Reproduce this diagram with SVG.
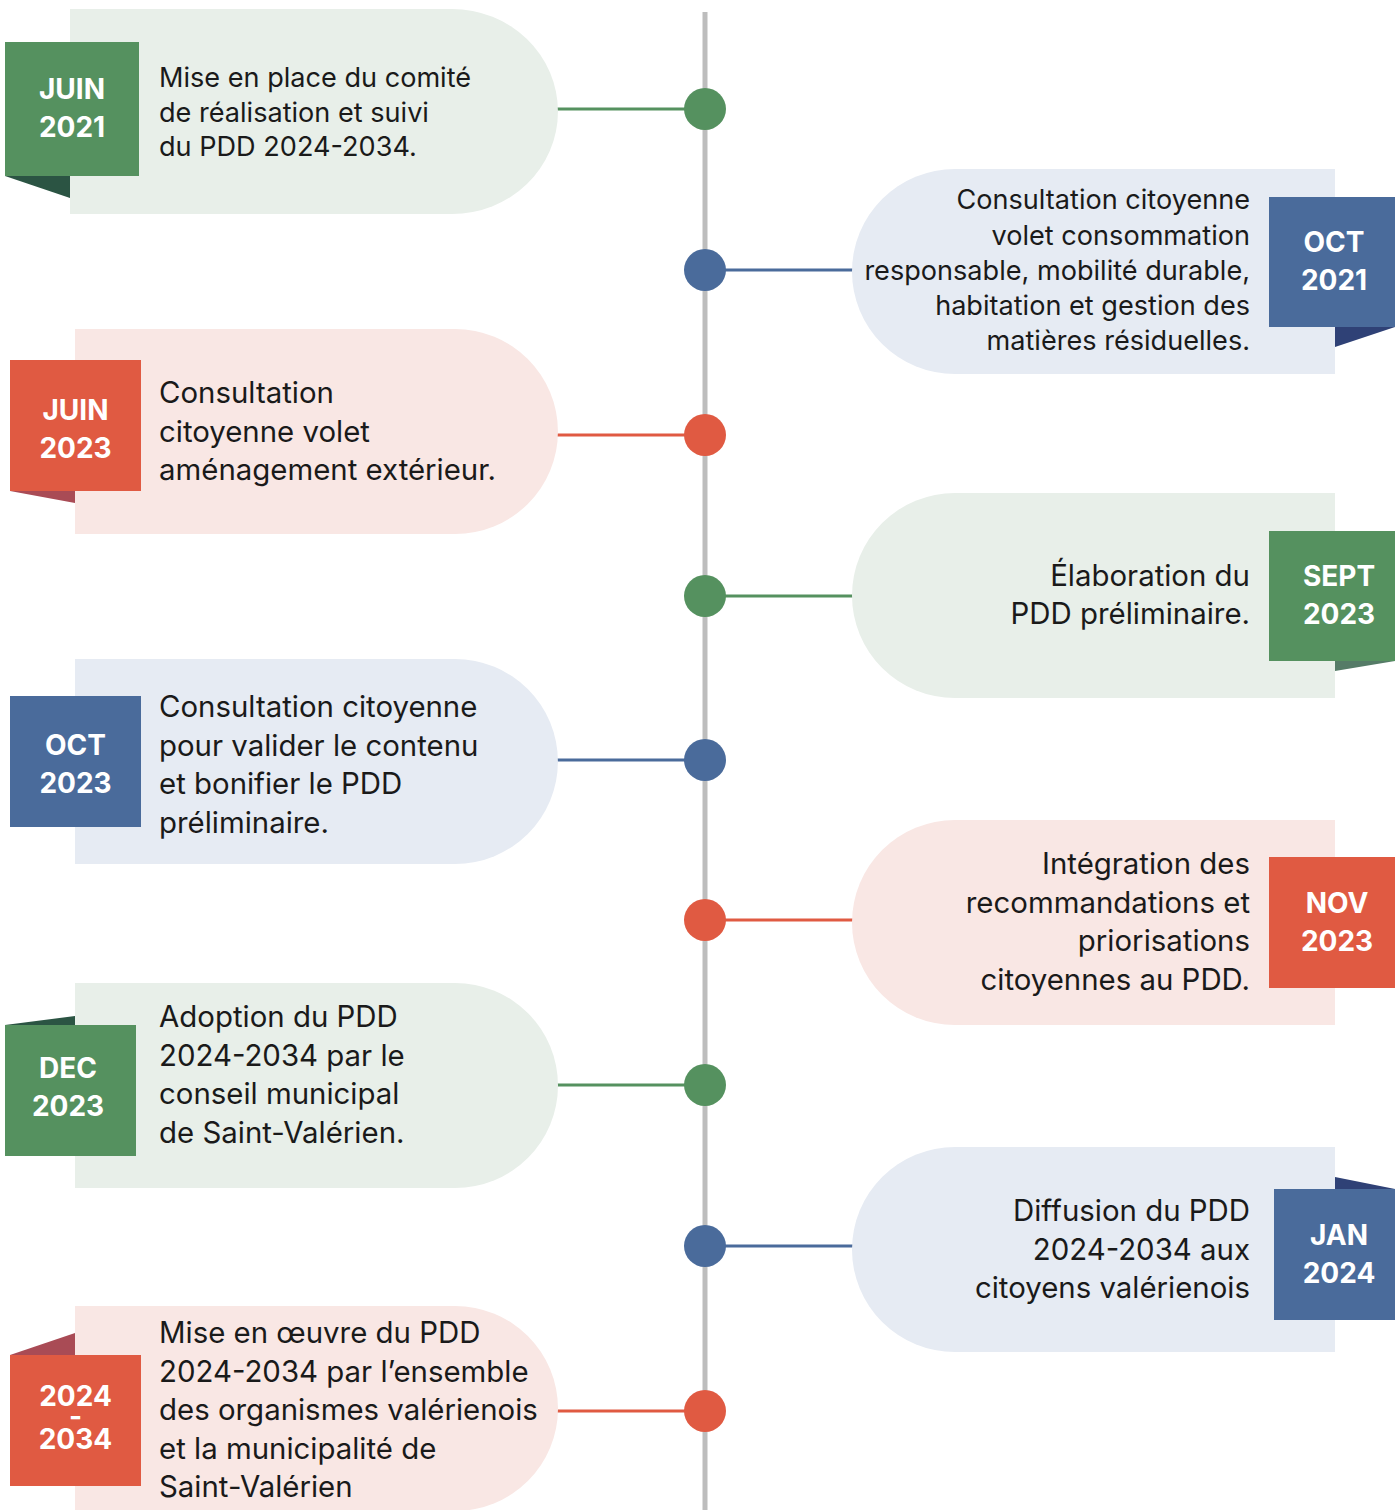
<svg xmlns="http://www.w3.org/2000/svg" width="1395" height="1510" viewBox="0 0 1395 1510">
<style>
.bg{fill:#fff}
.cg{fill:#E8EFE9}.cb{fill:#E6EBF3}.cr{fill:#F9E7E4}
.tg{fill:#55915F}.tb{fill:#4A6B9B}.tr{fill:#E05A42}
.fg{fill:#2B5443}.fg2{fill:#557B67}.fb{fill:#2F4176}.fr{fill:#A94B55}
.lg{stroke:#55915F}.lb{stroke:#4A6B9B}.lr{stroke:#E05A42}
.conn line{stroke-width:3}
.body{font-family:Inter,"Open Sans","Liberation Sans",sans-serif;fill:#1a1a1a}
.s27{font-size:27.1px}.s29{font-size:29.4px}
.r{text-anchor:end}
.tab{font-family:Inter,"Liberation Sans",sans-serif;font-weight:700;font-size:28px;fill:#fff;text-anchor:middle}
</style>
<rect class="bg" width="1395" height="1510"/>
<line x1="705" y1="12" x2="705" y2="1510" stroke="#BDBDBD" stroke-width="5"/>
<g class="conn" id="connectors">
<line class="lg" x1="556" y1="109" x2="690" y2="109"/>
<line class="lb" x1="720" y1="270" x2="854" y2="270"/>
<line class="lr" x1="556" y1="435" x2="690" y2="435"/>
<line class="lg" x1="720" y1="596" x2="854" y2="596"/>
<line class="lb" x1="556" y1="760" x2="690" y2="760"/>
<line class="lr" x1="720" y1="920" x2="854" y2="920"/>
<line class="lg" x1="556" y1="1085" x2="690" y2="1085"/>
<line class="lb" x1="720" y1="1246" x2="854" y2="1246"/>
<line class="lr" x1="556" y1="1411" x2="690" y2="1411"/>
</g>
<g id="dots">
<circle class="tg" cx="705" cy="109" r="21"/>
<circle class="tb" cx="705" cy="270" r="21"/>
<circle class="tr" cx="705" cy="435" r="21"/>
<circle class="tg" cx="705" cy="596" r="21"/>
<circle class="tb" cx="705" cy="760" r="21"/>
<circle class="tr" cx="705" cy="920" r="21"/>
<circle class="tg" cx="705" cy="1085" r="21"/>
<circle class="tb" cx="705" cy="1246" r="21"/>
<circle class="tr" cx="705" cy="1411" r="21"/>
</g>
<g id="n1">
<path class="cg" d="M70,9 H452 A106,102.5 0 0 1 452,214 H70 Z"/>
<polygon class="fg" points="5,176 70,176 70,198"/>
<rect class="tg" x="5" y="42" width="134" height="134"/>
<text class="tab" x="72" y="99">JUIN</text><text class="tab" x="72" y="137">2021</text>
<text class="body s27" x="159" y="87">Mise en place du comité</text>
<text class="body s27" x="159" y="121.5">de réalisation et suivi</text>
<text class="body s27" x="159" y="156">du PDD 2024-2034.</text>
</g>
<g id="n2">
<path class="cb" d="M1335,169 V374 H955 A103,102.5 0 0 1 955,169 Z"/>
<polygon class="fb" points="1335,327 1395,327 1335,347"/>
<rect class="tb" x="1269" y="197" width="126" height="130"/>
<text class="tab" x="1334" y="252">OCT</text><text class="tab" x="1334" y="290">2021</text>
<text class="body s27 r" x="1250" y="209">Consultation citoyenne</text>
<text class="body s27 r" x="1250" y="244.5">volet consommation</text>
<text class="body s27 r" x="1250" y="279.5">responsable, mobilité durable,</text>
<text class="body s27 r" x="1250" y="314.5">habitation et gestion des</text>
<text class="body s27 r" x="1250" y="349.5">matières résiduelles.</text>
</g>
<g id="n3">
<path class="cr" d="M75,329 H455 A103,102.5 0 0 1 455,534 H75 Z"/>
<polygon class="fr" points="10,491 75,491 75,503"/>
<rect class="tr" x="10" y="360" width="131" height="131"/>
<text class="tab" x="75.5" y="420">JUIN</text><text class="tab" x="75.5" y="458">2023</text>
<text class="body s29" x="159" y="403">Consultation</text>
<text class="body s29" x="159" y="441.5">citoyenne volet</text>
<text class="body s29" x="159" y="480">aménagement extérieur.</text>
</g>
<g id="n4">
<path class="cg" d="M1335,493 V698 H955 A103,102.5 0 0 1 955,493 Z"/>
<polygon class="fg2" points="1335,661 1395,661 1335,671"/>
<rect class="tg" x="1269" y="531" width="126" height="130"/>
<text class="tab" x="1339" y="586">SEPT</text><text class="tab" x="1339" y="624">2023</text>
<text class="body s29 r" x="1250" y="586">Élaboration du</text>
<text class="body s29 r" x="1250" y="624">PDD préliminaire.</text>
</g>
<g id="n5">
<path class="cb" d="M75,659 H455 A103,102.5 0 0 1 455,864 H75 Z"/>
<rect class="tb" x="10" y="696" width="131" height="131"/>
<text class="tab" x="75.5" y="755">OCT</text><text class="tab" x="75.5" y="793">2023</text>
<text class="body s29" x="159" y="717">Consultation citoyenne</text>
<text class="body s29" x="159" y="755.5">pour valider le contenu</text>
<text class="body s29" x="159" y="794">et bonifier le PDD</text>
<text class="body s29" x="159" y="832.5">préliminaire.</text>
</g>
<g id="n6">
<path class="cr" d="M1335,820 V1025 H955 A103,102.5 0 0 1 955,820 Z"/>
<rect class="tr" x="1269" y="857" width="126" height="131"/>
<text class="tab" x="1337" y="913">NOV</text><text class="tab" x="1337" y="951">2023</text>
<text class="body s29 r" x="1250" y="874">Intégration des</text>
<text class="body s29 r" x="1250" y="912.5">recommandations et</text>
<text class="body s29 r" x="1250" y="951">priorisations</text>
<text class="body s29 r" x="1250" y="989.5">citoyennes au PDD.</text>
</g>
<g id="n7">
<path class="cg" d="M75,983 H455 A103,102.5 0 0 1 455,1188 H75 Z"/>
<polygon class="fg" points="5,1025 75,1016 75,1025"/>
<rect class="tg" x="5" y="1025" width="131" height="131"/>
<text class="tab" x="68" y="1078">DEC</text><text class="tab" x="68" y="1116">2023</text>
<text class="body s29" x="159" y="1027">Adoption du PDD</text>
<text class="body s29" x="159" y="1065.5">2024-2034 par le</text>
<text class="body s29" x="159" y="1104">conseil municipal</text>
<text class="body s29" x="159" y="1142.5">de Saint-Valérien.</text>
</g>
<g id="n8">
<path class="cb" d="M1335,1147 V1352 H955 A103,102.5 0 0 1 955,1147 Z"/>
<polygon class="fb" points="1335,1177 1395,1189 1335,1189"/>
<rect class="tb" x="1274" y="1189" width="121" height="131"/>
<text class="tab" x="1339" y="1245">JAN</text><text class="tab" x="1339" y="1283">2024</text>
<text class="body s29 r" x="1250" y="1221">Diffusion du PDD</text>
<text class="body s29 r" x="1250" y="1259.5">2024-2034 aux</text>
<text class="body s29 r" x="1250" y="1298">citoyens valérienois</text>
</g>
<g id="n9">
<path class="cr" d="M75,1306 H455 A103,102.5 0 0 1 455,1511 H75 Z"/>
<polygon class="fr" points="10,1355 75,1333 75,1355"/>
<rect class="tr" x="10" y="1355" width="131" height="131"/>
<text class="tab" x="75.5" y="1406">2024<tspan x="75.5" dy="20">-</tspan><tspan x="75.5" dy="23">2034</tspan></text>
<text class="body s29" x="159" y="1343">Mise en œuvre du PDD</text>
<text class="body s29" x="159" y="1381.5">2024-2034 par l’ensemble</text>
<text class="body s29" x="159" y="1420">des organismes valérienois</text>
<text class="body s29" x="159" y="1458.5">et la municipalité de</text>
<text class="body s29" x="159" y="1497">Saint-Valérien</text>
</g>
</svg>
